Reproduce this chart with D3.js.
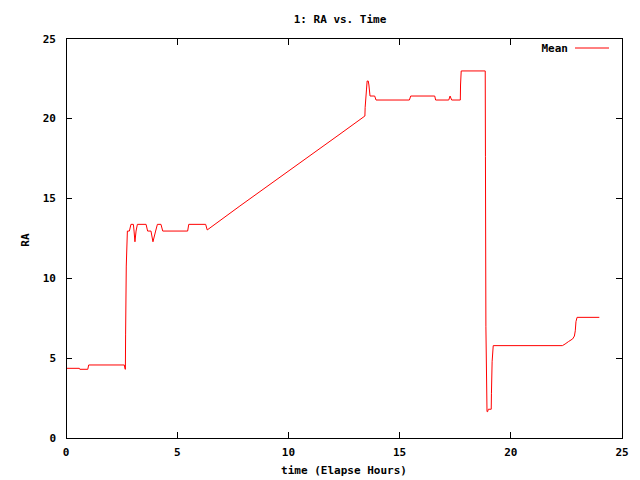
<!DOCTYPE html>
<html>
<head>
<meta charset="utf-8">
<script src="https://cdn.jsdelivr.net/npm/d3@7"></script>
<style>
  html, body { margin: 0; padding: 0; background: #fff; }
  text { font-family: "DejaVu Sans Mono", "Liberation Mono", monospace; font-weight: bold; font-size: 11px; fill: #000; }
</style>
</head>
<body>
<svg id="chart" width="640" height="480"></svg>
<script>
const title = "1: RA vs. Time";
const xLabel = "time (Elapse Hours)";
const yLabel = "RA";
const seriesName = "Mean";
const xTicks = [0, 5, 10, 15, 20, 25];
const yTicks = [0, 5, 10, 15, 20, 25];

const time = [0, 0.6, 0.62, 0.98, 1.02, 2.62, 2.66, 2.67, 2.68, 2.71, 2.76, 2.85, 2.92, 3.03, 3.06, 3.1, 3.15, 3.21,
  3.6, 3.67, 3.82, 3.91, 4.03, 4.11, 4.27, 4.35, 5.47, 5.52, 6.28, 6.35, 7.82, 12.32,
  13.44, 13.45, 13.51, 13.54, 13.59, 13.62, 13.67, 13.88, 13.94, 15.44, 15.5, 16.58, 16.62,
  17.21, 17.27, 17.34, 17.73, 17.74, 17.77, 18.85, 18.86, 18.88, 18.93, 18.96, 18.99,
  19.12, 19.13, 19.16, 19.21, 22.32, 22.44, 22.59, 22.78, 22.86, 22.9, 22.93, 22.98, 23.98];
const ra = [4.36, 4.36, 4.30, 4.30, 4.57, 4.57, 4.30, 4.30, 6.45, 10.76, 12.95, 12.95, 13.37, 13.37, 12.95, 12.28, 12.95, 13.37,
  13.37, 12.95, 12.95, 12.28, 12.95, 13.37, 13.37, 12.95, 12.95, 13.37, 13.37, 13.02, 14.52, 19.02,
  20.15, 20.67, 21.78, 22.34, 22.34, 22.09, 21.40, 21.40, 21.15, 21.15, 21.40, 21.40, 21.15,
  21.15, 21.40, 21.15, 21.15, 22.09, 22.97, 22.97, 17.60, 6.96, 1.65, 1.65, 1.80,
  1.80, 2.80, 4.77, 5.78, 5.78, 5.88, 6.03, 6.20, 6.38, 6.71, 7.28, 7.55, 7.55];

const svg = d3.select("#chart");
const L = 66, R = 622, T = 38.5, B = 438;
const x = d3.scaleLinear().domain([0, 25]).range([L, R]);
const y = d3.scaleLinear().domain([0, 25]).range([B, T]);

// tick marks (inward, mirrored)
const tickLen = 6;
const g = svg.append("g").attr("stroke", "#000").attr("stroke-width", 1).attr("shape-rendering", "crispEdges");
xTicks.forEach(v => {
  g.append("line").attr("x1", x(v)).attr("x2", x(v)).attr("y1", B).attr("y2", B - tickLen);
  g.append("line").attr("x1", x(v)).attr("x2", x(v)).attr("y1", T).attr("y2", T + tickLen);
});
yTicks.forEach(v => {
  g.append("line").attr("x1", L).attr("x2", L + tickLen).attr("y1", y(v)).attr("y2", y(v));
  g.append("line").attr("x1", R).attr("x2", R - tickLen).attr("y1", y(v)).attr("y2", y(v));
});

// tick labels
svg.append("g").selectAll("text").data(xTicks).join("text")
  .attr("x", d => x(d)).attr("y", 456).attr("text-anchor", "middle").text(d => d);
svg.append("g").selectAll("text").data(yTicks).join("text")
  .attr("x", 56).attr("y", d => y(d) + 4).attr("text-anchor", "end").text(d => d);

// labels
svg.append("text").attr("x", 340).attr("y", 23).attr("text-anchor", "middle").text(title);
svg.append("text").attr("x", (L + R) / 2).attr("y", 474).attr("text-anchor", "middle").text(xLabel);
svg.append("text").attr("transform", "translate(29,240) rotate(-90)").attr("text-anchor", "middle").text(yLabel);

// data line
const data = time.map((t, i) => [t, ra[i]]);
svg.append("path").datum(data)
  .attr("fill", "none").attr("stroke", "#ff0000").attr("stroke-width", 1)
  .attr("d", d3.line().x(d => x(d[0])).y(d => y(d[1])));

// legend
svg.append("text").attr("x", 568).attr("y", 52).attr("text-anchor", "end").text(seriesName);
svg.append("line").attr("x1", 575).attr("x2", 609).attr("y1", 48).attr("y2", 48)
  .attr("stroke", "#ff0000").attr("stroke-width", 1);

// frame
svg.append("rect").attr("x", L).attr("y", T).attr("width", R - L).attr("height", B - T)
  .attr("fill", "none").attr("stroke", "#000").attr("stroke-width", 1).attr("shape-rendering", "crispEdges");
</script>
</body>
</html>
